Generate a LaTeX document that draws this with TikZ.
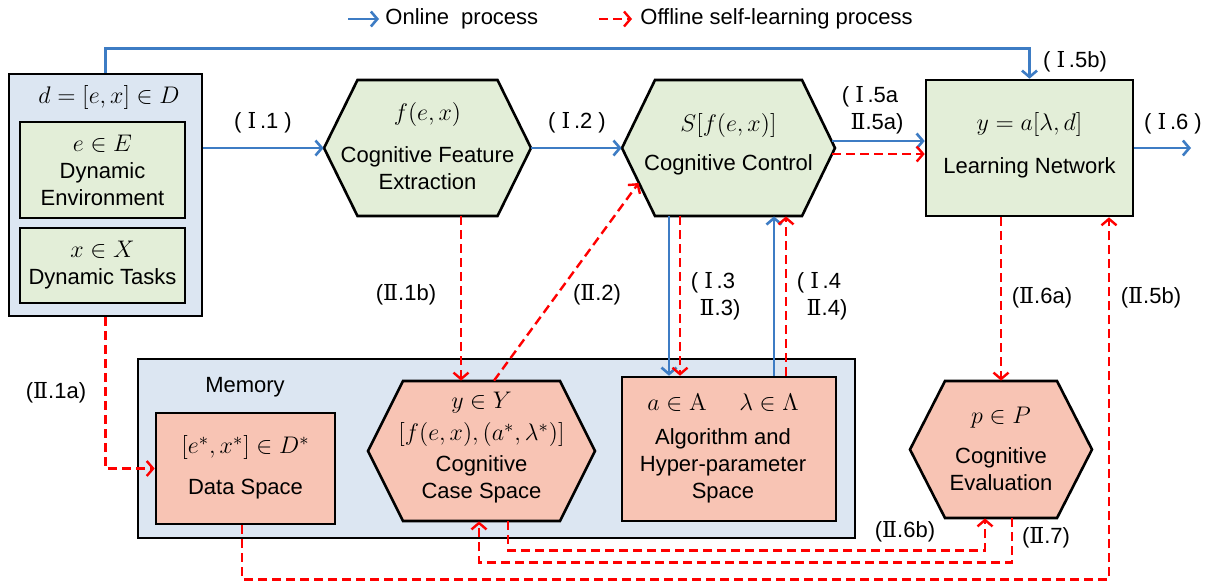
\documentclass[tikz,border=0pt]{standalone}
\usepackage[no-math]{fontspec}
\setmainfont{Liberation Sans}
\newfontfamily\romfont{DejaVu Serif}
\usetikzlibrary{arrows.meta,calc}
\definecolor{bluefill}{HTML}{DCE6F2}
\definecolor{greenfill}{HTML}{E3EED8}
\definecolor{salmon}{HTML}{F8C4B4}
\definecolor{lineblue}{HTML}{3D7CC4}
\definecolor{linered}{HTML}{FF0000}
\newcommand{\RI}{{\romfont Ⅰ}}
\newcommand{\RII}{{\romfont Ⅱ}}
\newcommand{\M}[1]{{\fontsize{13}{15}\selectfont$#1$}}
\newcommand{\Ms}[1]{{\fontsize{12.5}{14}\selectfont$#1$}}
\newcommand{\hexshape}[7]{%
  \filldraw[fill=#7, line width=1.3pt, line join=miter] (#2-#4,#3) -- (#2-#4+#6,#3-#5) -- (#2+#4-#6,#3-#5) -- (#2+#4,#3) -- (#2+#4-#6,#3+#5) -- (#2-#4+#6,#3+#5) -- cycle;
  \node[inner sep=0pt, minimum width=#4pt, minimum height=#5pt] (#1) at (#2,#3) {};
}
\tikzset{
  box/.style={draw, line width=1.3pt, inner sep=0pt},
  online/.style={draw=lineblue, line width=1.3pt, -{Straight Barb[length=3.2pt,width=7.5pt]}},
  offline/.style={draw=linered, line width=1.2pt, dash pattern=on 4.5pt off 2.5pt, -{Straight Barb[length=3.2pt,width=7.5pt]}},
  lbl/.style={inner sep=0pt},
  txt/.style={align=center, inner sep=0pt}
}
\begin{document}
\begin{tikzpicture}[x=0.5pt, y=-0.5pt, font=\fontsize{11}{13.5}\selectfont]
\fill[white] (0,0) rectangle (1214,580);
\useasboundingbox (0,0) rectangle (1214,580);

% legend
\coordinate (lgOa) at (348,19);
\coordinate (lgOb) at (379,19);
\coordinate (lgFa) at (599,19);
\coordinate (lgFb) at (632,19);
\draw[online] (lgOa) -- (lgOb);
\node[lbl, anchor=west] (lgOt) at (385,19) {Online~ process};
\draw[offline] (lgFa) -- (lgFb);
\node[lbl, anchor=west] (lgFt) at (640,19) {Offline self-learning process};

% left box
\node[box, fill=bluefill, minimum width=96.5pt, minimum height=121pt] (dbox) at (105.5,195) {};
\node[lbl] (dtitle) at (109,97) {\Ms{d=[e,x]\in D}};
\node[box, fill=greenfill, minimum width=82.5pt, minimum height=48pt] (ebox) at (102.5,170) {};
\node[txt] (etext) at (102.5,170) {\M{e\in E}\\Dynamic\\Environment};
\node[box, fill=greenfill, minimum width=82.5pt, minimum height=37.5pt] (xbox) at (102.5,265.5) {};
\node[txt] (xtext) at (102.5,265) {\M{x\in X}\\Dynamic Tasks};

% memory
\node[draw, line width=1pt, fill=bluefill, inner sep=0pt, minimum width=358.5pt, minimum height=89.5pt] (mem) at (496.5,448.5) {};
\node[lbl] (memt) at (245,387) {Memory};

% hexagons and boxes
\hexshape{hx1}{427.5}{148}{103.5}{68}{33.5}{greenfill}
\node[txt] (hx1t) at (427.5,146.5) {\M{f(e,x)}\\[7.5pt]Cognitive Feature\\Extraction};
\hexshape{hx2}{728.5}{148}{106.5}{68}{33}{greenfill}
\node[txt] (hx2t) at (728.5,144.5) {\Ms{S[f(e,x)]}\\[6pt]Cognitive Control};
\node[box, fill=greenfill, minimum width=103.5pt, minimum height=68pt] (ln) at (1029.5,148) {};
\node[txt] (lnt) at (1029.5,145.5) {\M{y=a[\lambda,d]}\\[8pt]Learning Network};

\node[box, fill=salmon, minimum width=89.5pt, minimum height=55.5pt] (ds) at (245.5,468.5) {};
\node[txt] (dst) at (245.5,467.5) {\Ms{[e^*,x^*]\in D^*}\\[7pt]Data Space};
\hexshape{hy}{481.5}{451}{113.5}{70}{35}{salmon}
\node[txt] (hyt) at (481.5,448) {\M{y\in Y}\\[2.5pt]\Ms{[f(e,x),(a^*,\lambda^*)]}\\[2pt]Cognitive\\Case Space};
\node[box, fill=salmon, minimum width=107pt, minimum height=72pt] (algo) at (729,449) {};
\node[txt] (algot) at (723,448) {\M{a\in\mathrm{A}\quad\;\lambda\in\Lambda}\\[3.5pt]Algorithm and\\Hyper-parameter\\Space};
\hexshape{hp}{1001}{449.5}{91}{68.5}{35}{salmon}
\node[txt] (hpt) at (1001,448.5) {\M{p\in P}\\[6.5pt]Cognitive\\Evaluation};

% online connectors
\draw[online] (dbox.north) -- ++(0,-24) -| (ln.north);
\draw[online] (dbox.east |- hx1.west) -- (hx1.west);
\draw[online] (hx1.east) -- (hx2.west);
\draw[online] ($(hx2.east)+(-3,-7)$) -- ($(ln.west)+(0,-7)$);
\coordinate (outend) at (1191,148);
\draw[online] (ln.east) -- (outend);
\draw[online] ($(hx2.south)+(-59.5,0)$) -- ($(algo.north)+(-60,0)$);
\draw[online] ($(algo.north)+(45,0)$) -- ($(hx2.south)+(45.5,0)$);

% offline connectors
\draw[offline] ($(hx2.east)+(-3,6)$) -- ($(ln.west)+(0,6)$);
\draw[offline] ($(hx1.south)+(33.5,0)$) -- ($(hy.north)+(-20.5,0)$);
\draw[offline] ($(hy.north)+(12.5,0)$) -- ($(hx2.west)+(17,35)$);
\draw[offline] ($(hx2.south)+(-48.5,0)$) -- ($(algo.north)+(-49,0)$);
\draw[offline] ($(algo.north)+(57,0)$) -- ($(hx2.south)+(57.5,0)$);
\draw[offline] (hp.north |- ln.south) -- (hp.north);
\draw[offline] (dbox.south) -- (dbox.south |- ds.west) -- (ds.west);
\draw[offline] ($(ds.south)+(-3.5,0)$) -- ++(0,54) -| ($(ln.south)+(79.5,0)$);
\draw[offline] ($(hy.south)+(26.5,0)$) -- ++(0,29) -| ($(hp.south)+(-16,0)$);
\draw[offline] ($(hp.south)+(11,0)$) -- ++(0,44) -| ($(hy.south)+(-2.5,0)$);

% labels
\node[lbl] (l11) at (263,123) {( \RI\,.1 )};
\node[lbl] (l12) at (577,123) {( \RI\,.2 )};
\node[lbl] (l15a) at (870,97) {( \RI\,.5a};
\node[lbl] (l25a) at (877,124) {\RII.5a)};
\node[lbl] (l15b) at (1075,62) {( \RI\,.5b)};
\node[lbl] (l16) at (1173,124) {( \RI\,.6 )};
\node[lbl] (l21b) at (406,295) {(\RII.1b)};
\node[lbl] (l22) at (597,295) {(\RII.2)};
\node[lbl] (l13) at (713,283) {( \RI\,.3};
\node[lbl] (l23) at (720,310) {\RII.3)};
\node[lbl] (l14) at (819,283) {( \RI\,.4};
\node[lbl] (l24) at (827,310) {\RII.4)};
\node[lbl] (l26a) at (1042,298) {(\RII.6a)};
\node[lbl] (l25b) at (1151,298) {(\RII.5b)};
\node[lbl] (l21a) at (56,393) {(\RII.1a)};
\node[lbl] (l26b) at (905,532) {(\RII.6b)};
\node[lbl] (l27) at (1046,538) {(\RII.7)};
\end{tikzpicture}
\end{document}
